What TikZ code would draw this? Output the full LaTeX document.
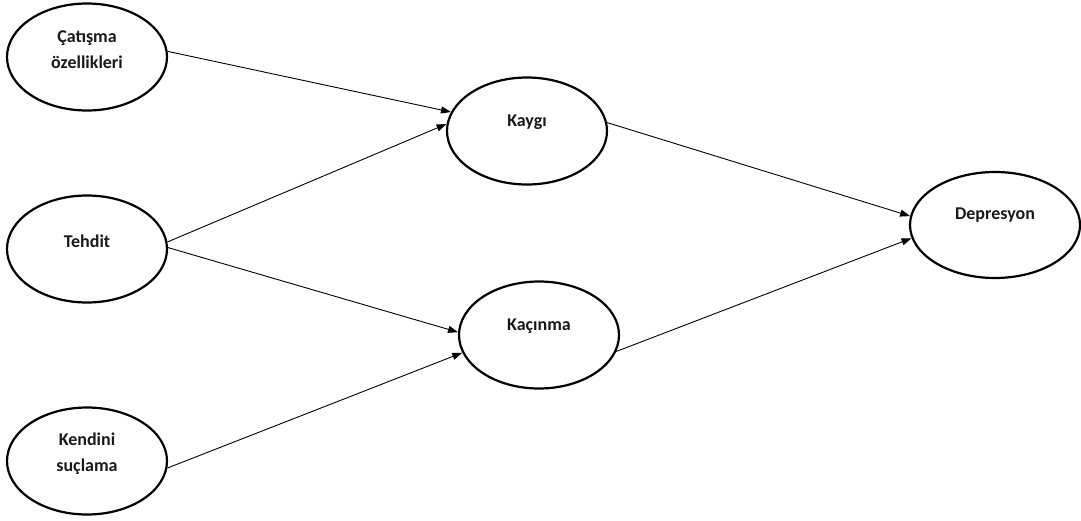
\documentclass[tikz,border=0pt]{standalone}
\usepackage{fontspec}
\setmainfont{Carlito}
\usetikzlibrary{shapes.geometric,arrows.meta}
\begin{document}
\begin{tikzpicture}[x=1pt,y=-1pt,
  var/.style={ellipse,draw=black,line width=2.2pt,minimum width=160pt,minimum height=107pt,inner sep=0pt},
  lbl/.style={font=\fontsize{18}{26}\selectfont\bfseries,align=center,inner sep=0pt,text=black!90},
  path/.style={line width=0.9pt,-{Triangle[length=10pt,width=7pt]}}]
\useasboundingbox (0,0) rectangle (1081,520);
\node[var] (cat) at (87,57) {};
\node[var] (teh) at (87,249) {};
\node[var] (ken) at (87,461) {};
\node[var] (kay) at (527,131) {};
\node[var] (kac) at (539,335) {};
\node[var,minimum width=170pt,minimum height=106pt] (dep) at (995,225) {};
\node[lbl] (catl) at (87,50) {Çatışma\\özellikleri};
\node[lbl] (tehl) at (87,241) {Tehdit};
\node[lbl] (kenl) at (87,454) {Kendini\\suçlama};
\node[lbl] (kayl) at (527,122) {Kaygı};
\node[lbl] (kacl) at (539,326) {Kaçınma};
\node[lbl] (depl) at (995,215) {Depresyon};
\draw[path] (cat.4) -- (kay.166);
\draw[path] (teh.5) -- (kay.175);
\draw[path] (teh.1) -- (kac.178);
\draw[path] (ken.-5) -- (kac.193);
\draw[path] (kay.6.5) -- (dep.174);
\draw[path] (kac.-12) -- (dep.189);
\end{tikzpicture}
\end{document}
